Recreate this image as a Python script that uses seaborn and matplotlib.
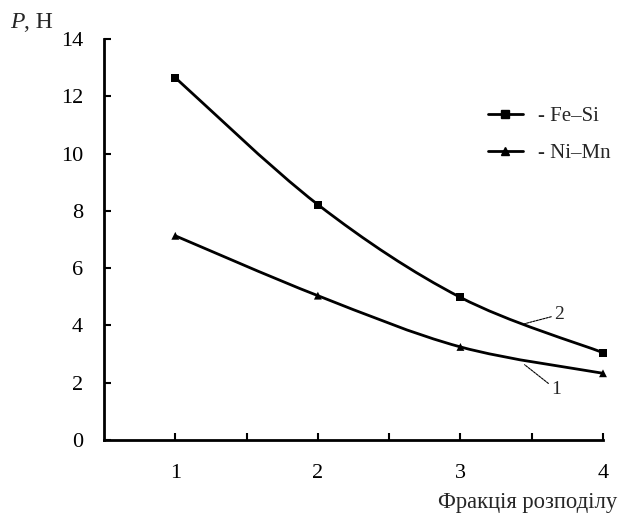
import numpy as np
import pandas as pd
import matplotlib
matplotlib.use("Agg")
import matplotlib.pyplot as plt
from matplotlib.path import Path
from matplotlib.patches import PathPatch
from matplotlib.lines import Line2D
import seaborn as sns

fractions = [1, 2, 3, 4]
fe_si = [12.65, 8.22, 4.98, 3.05]
ni_mn = [7.13, 5.04, 3.25, 2.33]
series_names = ["Fe–Si", "Ni–Mn"]
y_ticks = [0, 2, 4, 6, 8, 10, 12, 14]
x_label = "Фракція розподілу"
y_label_italic = "P"
y_label_unit = ", Н"

sns.set_theme(style="white")
plt.rcParams["font.family"] = ["Liberation Serif", "DejaVu Serif"]

df = pd.DataFrame({
    "x": fractions * 2,
    "y": fe_si + ni_mn,
    "s": [series_names[0]] * 4 + [series_names[1]] * 4,
})

fig = plt.figure(figsize=(6.21, 5.15), dpi=100)
ax = fig.add_axes([0.1675, 0.1456, 0.8035, 0.7786])


def smooth_path(xs, ys):
    pts = np.column_stack([xs, ys]).astype(float)
    n = len(pts)
    verts = [pts[0]]
    codes = [Path.MOVETO]
    for i in range(n - 1):
        p0 = pts[i - 1] if i > 0 else pts[i]
        p1 = pts[i]
        p2 = pts[i + 1]
        p3 = pts[i + 2] if i + 2 < n else pts[i + 1]
        c1 = p1 + (p2 - p0) / 6.0
        c2 = p2 - (p3 - p1) / 6.0
        verts += [c1, c2, p2]
        codes += [Path.CURVE4] * 3
    return Path(verts, codes)


for vals in (fe_si, ni_mn):
    ax.add_patch(PathPatch(smooth_path(fractions, vals), fill=False,
                           edgecolor="black", lw=2.0, zorder=2, clip_on=False))

sns.scatterplot(data=df, x="x", y="y", style="s", markers={series_names[0]: "s", series_names[1]: "^"},
                color="black", s=32, edgecolor="black", linewidth=0, ax=ax, legend=False,
                zorder=3, clip_on=False)

ax.set_xlim(0.5, 4.0)
ax.set_ylim(0, 14)
ax.set_xticks([1, 1.5, 2, 2.5, 3, 3.5, 4])
ax.set_xticklabels(["1", "", "2", "", "3", "", "4"])
ax.set_yticks(y_ticks)
ax.set_yticklabels([str(v) for v in y_ticks])
ax.tick_params(bottom=True, left=True, direction="in", length=5, width=1.5,
               labelsize=16, colors="black")
ax.tick_params(axis="y", pad=15)
ax.tick_params(axis="x", pad=17)
for side in ("top", "right"):
    ax.spines[side].set_visible(False)
for side in ("left", "bottom"):
    ax.spines[side].set_color("black")
    ax.spines[side].set_linewidth(2.0)
ax.set_xlabel("")
ax.set_ylabel("")

fig.text(617 / 621, 1 - 508 / 515, x_label, ha="right", va="baseline", fontsize=16.3)

# y-axis title "P, Н" (italic P)
tP = fig.text(10 / 621, 0.946, y_label_italic, fontsize=17, style="italic", ha="left", va="baseline")
fig.canvas.draw()
bb = tP.get_window_extent()
fig.text(bb.x1 / fig.bbox.width, 0.946, y_label_unit, fontsize=17, ha="left", va="baseline")

handles = [Line2D([], [], color="black", lw=2, marker="s", markersize=5.5),
           Line2D([], [], color="black", lw=2, marker="^", markersize=6)]
ax.legend(handles, ["- " + n for n in series_names], loc="upper left",
          bbox_to_anchor=(0.752, 0.852), frameon=False, fontsize=15,
          handlelength=1.7, handletextpad=0.7, labelspacing=0.84, borderaxespad=0)

# curve number labels with leader lines
ax.annotate("2", xy=(3.45, 4.06), xytext=(3.66, 4.38), fontsize=14,
            ha="left", va="center",
            arrowprops=dict(arrowstyle="-", lw=0.8, ls=(0, (2, 1)), color="black", shrinkA=0, shrinkB=0))
ax.annotate("1", xy=(3.45, 2.63), xytext=(3.64, 1.75), fontsize=14,
            ha="left", va="center",
            arrowprops=dict(arrowstyle="-", lw=0.8, ls=(0, (2, 1)), color="black", shrinkA=0, shrinkB=0))

fig.savefig("out.png", dpi=100, facecolor="white")
